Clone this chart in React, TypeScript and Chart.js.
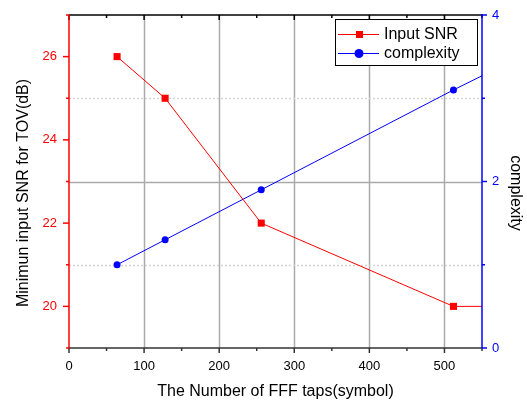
import React, { useEffect, useRef } from "react";
import { Chart, registerables } from "chart.js";

Chart.register(...registerables);

// ---- data ----
const taps = [64, 128, 256, 512];
const inputSnr = [26, 25, 22, 20];
const complexity = [1.0, 1.3, 1.9, 3.1];
// lines continue (without marker) to the right edge of the plot
const edgeTap = 550;
const snrAtEdge = 20;
const complexityAtEdge = 3.27;

const xMajorTicks = [0, 100, 200, 300, 400, 500];
const xMinorTicks = [50, 150, 250, 350, 450, 550];
const snrTicks = [20, 22, 24, 26];
const snrMinorTicks = [19, 21, 23, 25, 27];
const complexityTicks = [0, 2, 4];
const complexityMinorTicks = [1, 3];

const xTitle = "The Number of FFF taps(symbol)";
const leftTitle = "Minimun input SNR for TOV(dB)";
const rightTitle = "complexity";

const RED = "#ff0000";
const BLUE = "#0000ff";
const FONT = "'Liberation Sans', Arial, sans-serif";

const decorPlugin = {
  id: "decor",
  beforeDatasetsDraw(chart: any) {
    const { ctx, chartArea: a, scales } = chart;
    const x = scales.x, y1 = scales.y1;
    ctx.save();
    ctx.strokeStyle = "#aaaaaa";
    ctx.lineWidth = 1.5;
    ctx.setLineDash([]);
    [100, 200, 300, 400, 500].forEach((v) => {
      const px = Math.round(x.getPixelForValue(v)) + 0.5;
      ctx.beginPath();
      ctx.moveTo(px, a.top);
      ctx.lineTo(px, a.bottom);
      ctx.stroke();
    });
    [2].forEach((v) => {
      const py = Math.round(y1.getPixelForValue(v)) + 0.5;
      ctx.beginPath();
      ctx.moveTo(a.left, py);
      ctx.lineTo(a.right, py);
      ctx.stroke();
    });
    ctx.strokeStyle = "#d4d4d4";
    ctx.lineWidth = 1.5;
    ctx.setLineDash([2, 2]);
    complexityMinorTicks.forEach((v) => {
      const py = Math.round(y1.getPixelForValue(v)) + 0.5;
      ctx.beginPath();
      ctx.moveTo(a.left, py);
      ctx.lineTo(a.right, py);
      ctx.stroke();
    });
    ctx.restore();
  },
  afterDatasetsDraw(chart: any) {
    const { ctx, chartArea: a, scales } = chart;
    const x = scales.x, y = scales.y, y1 = scales.y1;
    ctx.save();
    ctx.setLineDash([]);
    ctx.lineWidth = 1.5;
    const line = (x0: number, y0: number, x1: number, yy1: number, c: string) => {
      ctx.strokeStyle = c;
      ctx.beginPath();
      ctx.moveTo(x0, y0);
      ctx.lineTo(x1, yy1);
      ctx.stroke();
    };
    // top axis
    line(a.left, a.top, a.right, a.top, "#000");
    xMajorTicks.forEach((v) => { const p = x.getPixelForValue(v); line(p, a.top, p, a.top + 5, "#000"); });
    xMinorTicks.forEach((v) => { const p = x.getPixelForValue(v); line(p, a.top, p, a.top + 3, "#000"); });
    // bottom axis
    line(a.left, a.bottom, a.right, a.bottom, "#333");
    xMajorTicks.forEach((v) => { const p = x.getPixelForValue(v); line(p, a.bottom, p, a.bottom + 5, "#333"); });
    xMinorTicks.forEach((v) => { const p = x.getPixelForValue(v); line(p, a.bottom, p, a.bottom + 3, "#333"); });
    // left axis
    line(a.left, a.top, a.left, a.bottom, RED);
    snrTicks.forEach((v) => { const p = y.getPixelForValue(v); line(a.left, p, a.left - 6, p, RED); });
    snrMinorTicks.forEach((v) => { const p = y.getPixelForValue(v); line(a.left, p, a.left - 3, p, RED); });
    // right axis
    line(a.right, a.top - 1, a.right, a.bottom, BLUE);
    complexityTicks.forEach((v) => { const p = y1.getPixelForValue(v); line(a.right, p, a.right + 5, p, BLUE); });
    complexityMinorTicks.forEach((v) => { const p = y1.getPixelForValue(v); line(a.right, p, a.right + 3, p, BLUE); });

    // vertical axis titles
    ctx.fillStyle = "#000";
    ctx.font = `16px ${FONT}`;
    ctx.textAlign = "center";
    ctx.textBaseline = "middle";
    ctx.save();
    ctx.translate(24, 193);
    ctx.rotate(-Math.PI / 2);
    ctx.fillText(leftTitle, 0, 0);
    ctx.restore();
    ctx.save();
    ctx.translate(515, 193);
    ctx.rotate(Math.PI / 2);
    ctx.fillText(rightTitle, 0, 0);
    ctx.restore();

    // legend
    const lx = 335, ly = 19, lw = 142, lh = 46;
    ctx.fillStyle = "#fff";
    ctx.fillRect(lx, ly, lw, lh);
    ctx.lineWidth = 1;
    ctx.strokeStyle = "#000";
    ctx.strokeRect(lx + 0.5, ly + 0.5, lw, lh);
    const rows = [
      { label: chart.data.datasets[0].label, color: RED, y: 34, rect: true },
      { label: chart.data.datasets[1].label, color: BLUE, y: 53, rect: false },
    ];
    rows.forEach((r) => {
      ctx.strokeStyle = r.color;
      ctx.lineWidth = 1;
      ctx.beginPath();
      ctx.moveTo(338, r.y + 0.5);
      ctx.lineTo(379, r.y + 0.5);
      ctx.stroke();
      ctx.fillStyle = r.color;
      if (r.rect) {
        ctx.fillRect(356, r.y - 3, 7, 7);
      } else {
        ctx.beginPath();
        ctx.arc(359, r.y + 0.5, 4.5, 0, Math.PI * 2);
        ctx.fill();
      }
      ctx.fillStyle = "#000";
      ctx.font = `16px ${FONT}`;
      ctx.textBaseline = "middle";
      ctx.textAlign = "left";
      ctx.fillText(r.label, 384, r.y + 1);
    });
    ctx.restore();
  },
};

export default function App() {
  const ref = useRef<HTMLCanvasElement | null>(null);
  useEffect(() => {
    if (!ref.current) return;
    const hiddenTicks = (len: number) => ({
      display: true,
      drawOnChartArea: false,
      drawTicks: true,
      tickLength: len,
      tickColor: "rgba(0,0,0,0)",
      color: "rgba(0,0,0,0)",
    });
    const chart = new Chart(ref.current, {
      type: "line",
      data: {
        datasets: [
          {
            label: "Input SNR",
            data: [...taps.map((t, i) => ({ x: t, y: inputSnr[i] })), { x: edgeTap, y: snrAtEdge }],
            borderColor: RED,
            backgroundColor: RED,
            borderWidth: 1,
            pointStyle: "rect",
            pointRadius: (c: any) => (c.dataIndex < taps.length ? 5 : 0),
            pointBorderWidth: 0,
            yAxisID: "y",
          },
          {
            label: "complexity",
            data: [...taps.map((t, i) => ({ x: t, y: complexity[i] })), { x: edgeTap, y: complexityAtEdge }],
            borderColor: BLUE,
            backgroundColor: BLUE,
            borderWidth: 1,
            pointStyle: "circle",
            pointRadius: (c: any) => (c.dataIndex < taps.length ? 3.5 : 0),
            pointBorderWidth: 0,
            yAxisID: "y1",
          },
        ],
      },
      options: {
        responsive: false,
        animation: false,
        devicePixelRatio: 1,
        layout: { padding: { top: 15, left: 0, right: 0, bottom: 0 } },
        plugins: { legend: { display: false }, tooltip: { enabled: false } },
        elements: { line: { tension: 0 } },
        scales: {
          x: {
            type: "linear",
            min: 0,
            max: 550,
            afterBuildTicks: (s: any) => { s.ticks = xMajorTicks.map((v) => ({ value: v })); },
            afterFit: (s: any) => { s.height = 57; },
            grid: hiddenTicks(11),
            border: { display: false },
            ticks: { color: "#000", font: { family: FONT, size: 13 }, padding: 0, maxRotation: 0 },
            title: {
              display: true,
              text: xTitle,
              color: "#000",
              font: { family: FONT, size: 16 },
              padding: { top: 0, bottom: 4 },
            },
          },
          y: {
            type: "linear",
            position: "left",
            min: 19,
            max: 27,
            afterBuildTicks: (s: any) => { s.ticks = snrTicks.map((v) => ({ value: v })); },
            afterFit: (s: any) => { s.width = 69; },
            grid: hiddenTicks(12),
            border: { display: false },
            ticks: { color: RED, font: { family: FONT, size: 13 }, padding: 0 },
            title: { display: false },
          },
          y1: {
            type: "linear",
            position: "right",
            min: 0,
            max: 4,
            afterBuildTicks: (s: any) => { s.ticks = complexityTicks.map((v) => ({ value: v })); },
            afterFit: (s: any) => { s.width = 45; },
            grid: hiddenTicks(10),
            border: { display: false },
            ticks: { color: BLUE, font: { family: FONT, size: 13 }, padding: 0 },
            title: { display: false },
          },
        },
      } as any,
      plugins: [decorPlugin],
    });
    return () => chart.destroy();
  }, []);
  return (
    <div style={{ position: "absolute", left: 0, top: 0, width: 527, height: 405, background: "#fff" }}>
      <canvas ref={ref} width={527} height={405} />
    </div>
  );
}
